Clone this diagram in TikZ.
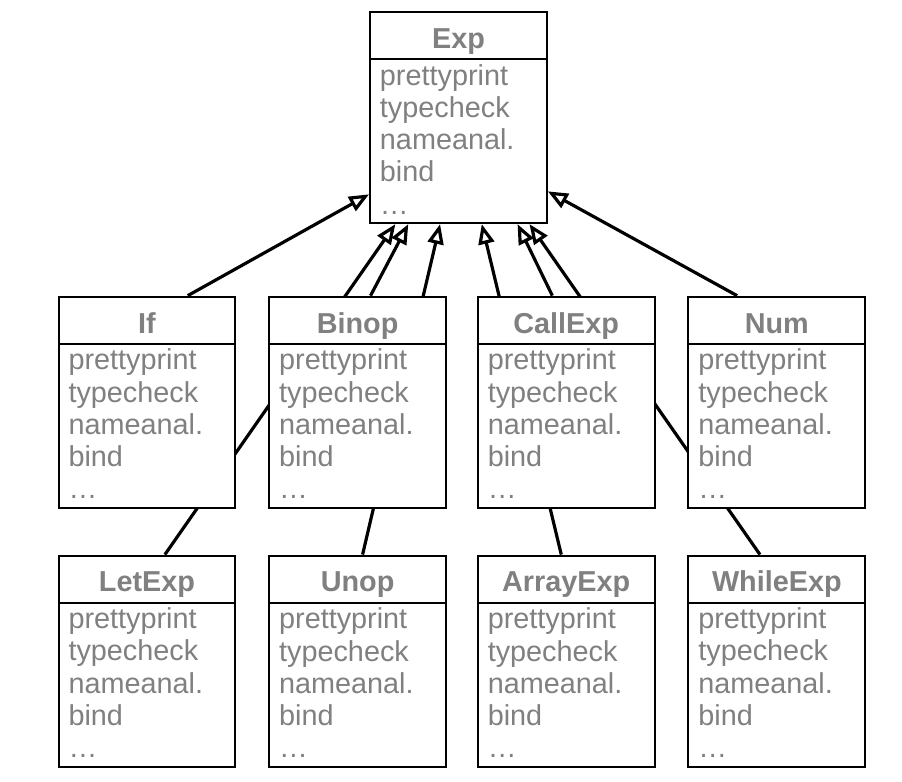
\documentclass[tikz,border=0pt]{standalone}
\usepackage{fontspec}
\setmainfont{Liberation Sans}
\usepackage{tikz}
\usetikzlibrary{positioning,shapes.multipart,arrows.meta,backgrounds,calc}

\definecolor{txtgray}{gray}{0.5}
\newcommand{\hdstrut}{\rule[-3pt]{0pt}{18.8pt}}
\newcommand{\ops}{prettyprint\\typecheck\\nameanal.\\bind\\\dots\rule[-2pt]{0pt}{0pt}}

\tikzset{
  cls/.style={rectangle split, rectangle split parts=2, draw, line width=1pt,
    fill=white, minimum width=89pt, inner xsep=5pt, inner ysep=2pt,
    rectangle split part align={center,left}, align=left,
    text=txtgray, font=\fontsize{14.5}{16.25}\selectfont},
  inh/.style={-{Triangle[open,length=10pt,width=8pt]}, line width=1.6pt}
}

\begin{document}
\begin{tikzpicture}
    \node [cls] (exp) {\hdstrut\textbf{Exp}\nodepart{two}\ops};

    \node [cls, below=36pt of exp, xshift=-50.75pt] (binop) {\hdstrut\textbf{Binop}\nodepart{two}\ops};
    \node [cls, below=36pt of exp, xshift=54.25pt] (callexp) {\hdstrut\textbf{CallExp}\nodepart{two}\ops};
    \node [cls, left=16pt of binop] (if) {\hdstrut\textbf{If}\nodepart{two}\ops};
    \node [cls, right=16pt of callexp] (num) {\hdstrut\textbf{Num}\nodepart{two}\ops};

    \node [cls, below=23pt of if] (letexp) {\hdstrut\textbf{LetExp}\nodepart{two}\ops};
    \node [cls, below=23pt of binop] (unop) {\hdstrut\textbf{Unop}\nodepart{two}\ops};
    \node [cls, below=23pt of callexp] (arrayexp) {\hdstrut\textbf{ArrayExp}\nodepart{two}\ops};
    \node [cls, below=23pt of num] (whileexp) {\hdstrut\textbf{WhileExp}\nodepart{two}\ops};

    % subclass links, kept behind the boxes
    \begin{scope}[on background layer]
      \draw [inh] ([xshift=20.5pt]if.north) -- ([yshift=15pt]exp.south west);
      \draw [inh] ([xshift=-20pt]num.north) -- ([yshift=16.5pt]exp.south east);
      \draw [inh] ([xshift=9pt]letexp.north) -- ([xshift=-31.75pt]exp.south);
      \draw [inh] ([xshift=6.5pt]binop.north) -- ([xshift=-25.25pt]exp.south);
      \draw [inh] ([xshift=2.5pt]unop.north) -- ([xshift=-9.25pt]exp.south);
      \draw [inh] ([xshift=-2.5pt]arrayexp.north) -- ([xshift=11.75pt]exp.south);
      \draw [inh] ([xshift=-7pt]callexp.north) -- ([xshift=29.75pt]exp.south);
      \draw [inh] ([xshift=-8.5pt]whileexp.north) -- ([xshift=35.75pt]exp.south);
    \end{scope}

    \useasboundingbox ($(letexp.south -| if.west)+(-29pt,-7pt)$) rectangle ($(exp.north -| num.east)+(18pt,5.5pt)$);
\end{tikzpicture}
\end{document}
